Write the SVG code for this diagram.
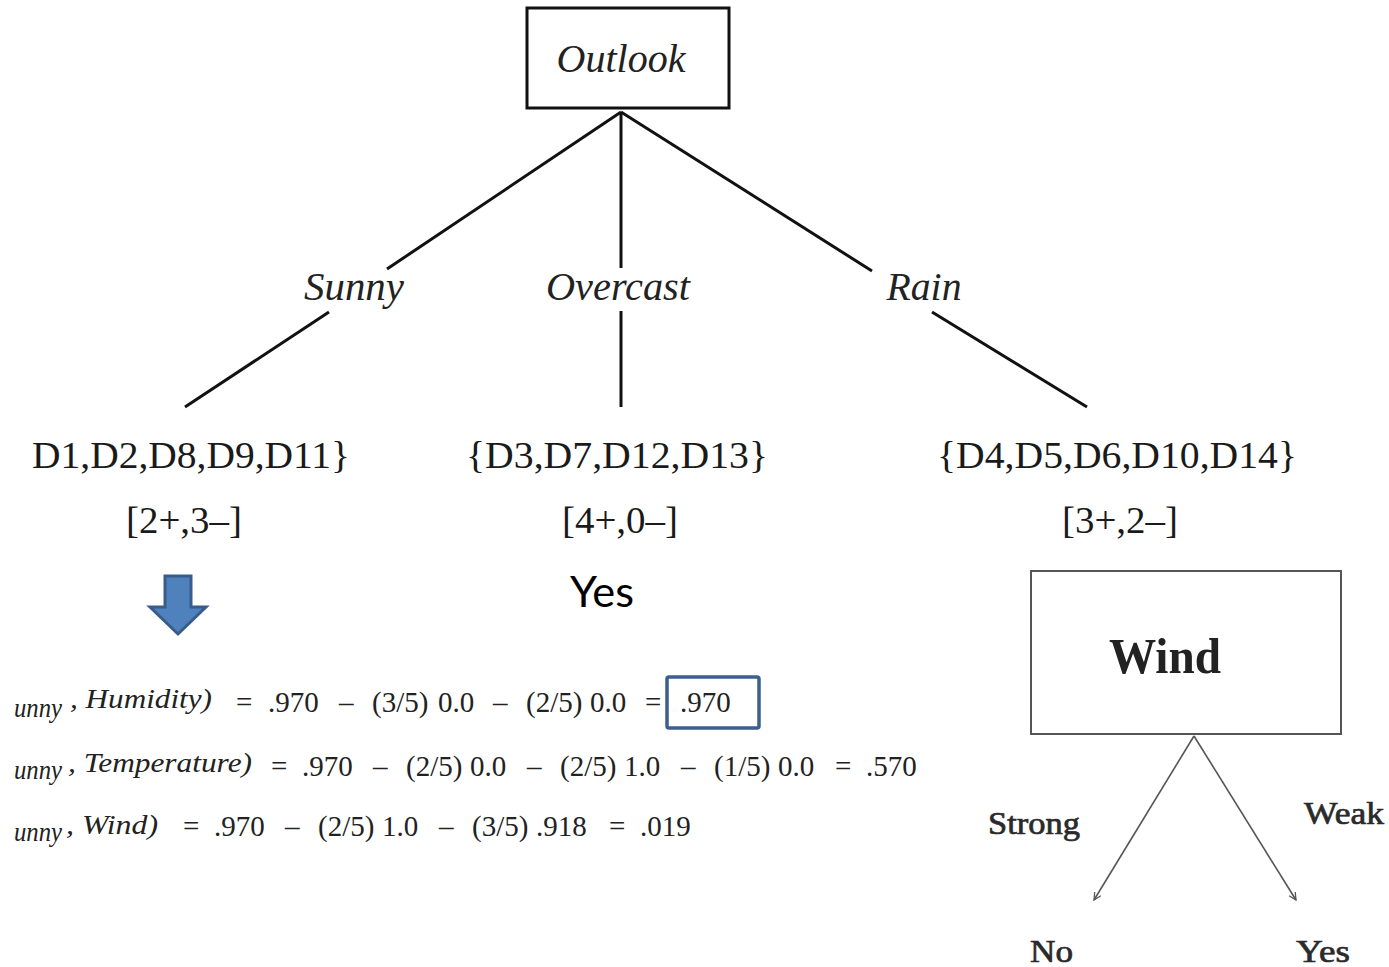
<svg xmlns="http://www.w3.org/2000/svg" width="1389" height="967" viewBox="0 0 1389 967">
<defs>
<style>
.ser{font-family:"Liberation Serif","Times New Roman",serif;fill:#1a1a1a}
.it{font-family:"Liberation Serif","Times New Roman",serif;font-style:italic;fill:#222}
.edge{stroke:#111;stroke-width:3;fill:none}
.thin{stroke:#555;stroke-width:1.6;fill:none}
.eq{font-family:"Liberation Serif","Times New Roman",serif;font-size:29px;fill:#222}
.gray{font-family:"Liberation Serif","Times New Roman",serif;fill:#2a2a2a;stroke:#2a2a2a;stroke-width:0.7}
</style>
<marker id="open" viewBox="0 0 10 10" refX="9" refY="5" markerWidth="9" markerHeight="9" orient="auto" markerUnits="userSpaceOnUse">
<path d="M1,1 L9,5 L1,9" fill="none" stroke="#555" stroke-width="1.4"/>
</marker>
</defs>
<rect width="1389" height="967" fill="#fff"/>

<g id="connectors">
<line class="edge" x1="621" y1="112" x2="387" y2="269"/>
<line class="edge" x1="329" y1="312" x2="185" y2="407"/>
<line class="edge" x1="621" y1="112" x2="621" y2="268"/>
<line class="edge" x1="621" y1="311" x2="621" y2="407"/>
<line class="edge" x1="621" y1="112" x2="872" y2="271"/>
<line class="edge" x1="932" y1="312" x2="1087" y2="407"/>
<line class="thin" x1="1194" y1="736" x2="1094" y2="900" marker-end="url(#open)"/>
<line class="thin" x1="1194" y1="736" x2="1296" y2="900" marker-end="url(#open)"/>
</g>

<g id="outlook">
<rect x="527" y="8" width="202" height="100" fill="#fff" stroke="#111" stroke-width="3"/>
<text class="it" x="621" y="72" font-size="40" text-anchor="middle" textLength="129" lengthAdjust="spacingAndGlyphs">Outlook</text>
</g>

<g id="labels">
<text class="it" x="354" y="300" font-size="40" text-anchor="middle" textLength="100" lengthAdjust="spacingAndGlyphs">Sunny</text>
<text class="it" x="618" y="300" font-size="40" text-anchor="middle" textLength="144" lengthAdjust="spacingAndGlyphs">Overcast</text>
<text class="it" x="924" y="300" font-size="40" text-anchor="middle" textLength="75" lengthAdjust="spacingAndGlyphs">Rain</text>
</g>

<g id="sunny-set">
<text class="ser" x="32" y="468" font-size="38" textLength="318" lengthAdjust="spacingAndGlyphs">D1,D2,D8,D9,D11}</text>
<text class="ser" x="184" y="533" font-size="38" text-anchor="middle" textLength="116" lengthAdjust="spacingAndGlyphs">[2+,3–]</text>
</g>
<g id="overcast-set">
<text class="ser" x="466" y="468" font-size="38" textLength="302" lengthAdjust="spacingAndGlyphs">{D3,D7,D12,D13}</text>
<text class="ser" x="620" y="533" font-size="38" text-anchor="middle" textLength="116" lengthAdjust="spacingAndGlyphs">[4+,0–]</text>
<text x="602" y="607" font-family="Lato,'DejaVu Sans',sans-serif" font-size="42" text-anchor="middle" fill="#000" textLength="64" lengthAdjust="spacingAndGlyphs">Yes</text>
</g>
<g id="rain-set">
<text class="ser" x="937" y="468" font-size="38" textLength="360" lengthAdjust="spacingAndGlyphs">{D4,D5,D6,D10,D14}</text>
<text class="ser" x="1120" y="533" font-size="38" text-anchor="middle" textLength="116" lengthAdjust="spacingAndGlyphs">[3+,2–]</text>
</g>

<g id="down-arrow">
<path d="M165,576 L191,576 L191,607 L206,607 L178,634 L150,607 L165,607 Z" fill="#4f81bd" stroke="#385d8a" stroke-width="3" stroke-linejoin="miter"/>
</g>

<g id="equations">
<text class="it" font-size="27" x="14" y="717" textLength="48" lengthAdjust="spacingAndGlyphs">unny</text>
<text class="it" font-size="27" x="70" y="708" textLength="142" lengthAdjust="spacingAndGlyphs">, Humidity)</text>
<text class="eq" y="712"><tspan x="236">=</tspan><tspan x="268">.970</tspan><tspan x="339">–</tspan><tspan x="372">(3/5)</tspan><tspan x="438">0.0</tspan><tspan x="493">–</tspan><tspan x="526">(2/5)</tspan><tspan x="590">0.0</tspan><tspan x="645">=</tspan></text>
<rect x="667" y="677" width="92" height="51" fill="none" stroke="#3c5f8e" stroke-width="3.5" rx="2"/>
<text class="eq" x="680" y="712">.970</text>

<text class="it" font-size="27" x="14" y="779" textLength="48" lengthAdjust="spacingAndGlyphs">unny</text>
<text class="it" font-size="27" x="68" y="772" textLength="184" lengthAdjust="spacingAndGlyphs">, Temperature)</text>
<text class="eq" y="776"><tspan x="271">=</tspan><tspan x="302">.970</tspan><tspan x="373">–</tspan><tspan x="406">(2/5)</tspan><tspan x="470">0.0</tspan><tspan x="527">–</tspan><tspan x="560">(2/5)</tspan><tspan x="624">1.0</tspan><tspan x="681">–</tspan><tspan x="714">(1/5)</tspan><tspan x="778">0.0</tspan><tspan x="835">=</tspan><tspan x="866">.570</tspan></text>

<text class="it" font-size="27" x="14" y="841" textLength="48" lengthAdjust="spacingAndGlyphs">unny</text>
<text class="it" font-size="27" x="66" y="834" textLength="92" lengthAdjust="spacingAndGlyphs">, Wind)</text>
<text class="eq" y="836"><tspan x="183">=</tspan><tspan x="214">.970</tspan><tspan x="285">–</tspan><tspan x="318">(2/5)</tspan><tspan x="382">1.0</tspan><tspan x="439">–</tspan><tspan x="472">(3/5)</tspan><tspan x="536">.918</tspan><tspan x="609">=</tspan><tspan x="640">.019</tspan></text>
</g>

<g id="wind">
<rect x="1031" y="571" width="310" height="163" fill="#fff" stroke="#555" stroke-width="2"/>
<text x="1165" y="673" font-family="'Liberation Serif','Times New Roman',serif" font-weight="bold" font-size="50" text-anchor="middle" fill="#222" textLength="112" lengthAdjust="spacingAndGlyphs">Wind</text>
</g>
<g id="wind-labels">
<text class="gray" x="988" y="834" font-size="32" textLength="92" lengthAdjust="spacingAndGlyphs">Strong</text>
<text class="gray" x="1304" y="824" font-size="32" textLength="80" lengthAdjust="spacingAndGlyphs">Weak</text>
</g>
<g id="no"><text class="gray" x="1030" y="962" font-size="32" textLength="43" lengthAdjust="spacingAndGlyphs">No</text></g>
<g id="yes2"><text class="gray" x="1296" y="962" font-size="32" textLength="54" lengthAdjust="spacingAndGlyphs">Yes</text></g>
</svg>
